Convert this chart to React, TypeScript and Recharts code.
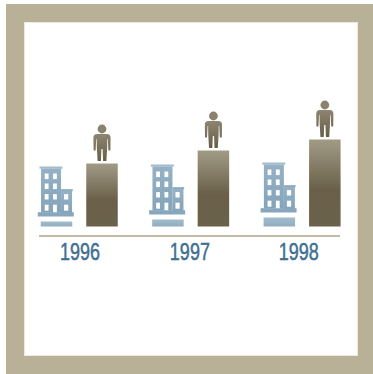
import React from "react"
import { Bar, BarChart, XAxis, YAxis } from "recharts"

const years = ["1996", "1997", "1998"]
const buildings = [5, 7, 9]
const people = [63, 76, 87]
const labelNudge = [0.5, -1, -3.5]

const rows = years.map((year, i) => ({ year, buildings: buildings[i], people: people[i] }))

const FRAME = "#b8b097"
const BLUE_TEXT = "#3f6f8f"

// tower with a lower wing, drawn upward from (x0, y0)
function BuildingIcon({ x0, y0 }: { x0: number; y0: number }) {
  const windows = [
    [7, -43, 3.8, 5.6], [15.3, -43, 3.8, 5.6],
    [7, -33, 3.8, 5.6], [15.3, -33, 3.8, 5.6],
    [7, -22.4, 3.8, 5.4], [15.3, -22.4, 3.8, 5.4], [26.3, -22.4, 4.2, 5.4],
    [7, -11.8, 3.8, 6], [15.3, -11.8, 3.8, 7.5], [26.3, -11.8, 4.2, 6],
  ]
  return (
    <g transform={`translate(${x0},${y0})`}>
      <rect x={3.3} y={-48} width={20} height={44} fill="url(#buildingFill)" />
      <rect x={23.3} y={-25.5} width={11} height={22} fill="url(#buildingFill)" />
      <rect x={1.7} y={-50} width={23} height={2.2} fill="#a4bccc" />
      <rect x={23.3} y={-27.4} width={11.7} height={2.2} fill="#8fadc1" />
      <rect x={0} y={-4.3} width={36} height={4.3} fill="#88a7bc" />
      {windows.map(([wx, wy, ww, wh], i) => (
        <rect key={i} x={wx} y={wy} width={ww} height={wh} fill="#ffffff" />
      ))}
    </g>
  )
}

// standing figure, feet at (cx, y0)
function PersonIcon({ cx, y0 }: { cx: number; y0: number }) {
  const body =
    "M-5,-27 L5,-27 Q8.6,-27 8.6,-23 L8.4,-10.5 L6.4,-10.5 L5.8,-22 L5.3,-22 L5.2,-14 L4.4,0 L1.1,0 L0.6,-12 L-0.6,-12 L-1.1,0 L-4.4,0 L-5.2,-14 L-5.3,-22 L-5.8,-22 L-6.4,-10.5 L-8.4,-10.5 L-8.6,-23 Q-8.6,-27 -5,-27 Z"
  return (
    <g transform={`translate(${cx},${y0})`}>
      <circle cx={0} cy={-32} r={4.4} fill="#8a826c" />
      <path d={body} fill="url(#personFill)" />
    </g>
  )
}

function BuildingBar(props: any) {
  const { x, y, width, height } = props
  return (
    <g>
      <BuildingIcon x0={x - 3} y0={y - 5} />
      <rect x={x} y={y} width={width} height={height} fill="url(#plinthFill)" />
    </g>
  )
}

function PersonBar(props: any) {
  const { x, y, width, height } = props
  return (
    <g>
      <PersonIcon cx={x + width / 2} y0={y - 2.5} />
      <rect x={x} y={y} width={width} height={height} fill="url(#columnFill)" />
    </g>
  )
}

// the narrow face isn't available, so the regular one is squeezed horizontally
function YearTick(props: any) {
  const { x, payload, index } = props
  return (
    <text
      transform={`translate(${x + labelNudge[index]},260) scale(0.75,1)`}
      textAnchor="middle"
      fontFamily="'Liberation Sans', sans-serif"
      fontSize={24}
      stroke={BLUE_TEXT}
      strokeWidth={0.5}
      fill={BLUE_TEXT}
    >
      {payload.value}
    </text>
  )
}

export default function App() {
  return (
    <div style={{ position: "absolute", left: 0, top: 0, width: 373, height: 374, background: "#ffffff", overflow: "hidden" }}>
      <div
        style={{
          position: "absolute",
          left: 6,
          top: 4,
          width: 334,
          height: 334,
          border: `18px solid ${FRAME}`,
          boxShadow: "inset 0 0 0 1px #efe9dc",
        }}
      />
      <BarChart
        width={373}
        height={374}
        data={rows}
        margin={{ top: 22, right: 33, bottom: 108, left: 39 }}
        barSize={31.5}
        barGap={14}
        style={{ position: "absolute", left: 0, top: 0 }}
      >
        <defs>
          <linearGradient id="columnFill" x1="0" y1="0" x2="0" y2="1">
            <stop offset="0%" stopColor="#a19b86" />
            <stop offset="58%" stopColor="#6a6049" />
            <stop offset="100%" stopColor="#6b624c" />
          </linearGradient>
          <linearGradient id="personFill" x1="0" y1="0" x2="0" y2="1">
            <stop offset="0%" stopColor="#8d8570" />
            <stop offset="100%" stopColor="#675e48" />
          </linearGradient>
          <linearGradient id="buildingFill" x1="0" y1="0" x2="0" y2="1">
            <stop offset="0%" stopColor="#95b1c5" />
            <stop offset="100%" stopColor="#84a4ba" />
          </linearGradient>
          <linearGradient id="plinthFill" x1="0" y1="0" x2="0" y2="1">
            <stop offset="0%" stopColor="#a3bccb" />
            <stop offset="100%" stopColor="#8fadc1" />
          </linearGradient>
        </defs>
        <XAxis
          dataKey="year"
          height={30}
          padding={{ left: -15.25, right: -18 }}
          tickLine={false}
          axisLine={{ stroke: "#c3baa8", strokeWidth: 2 }}
          tick={<YearTick />}
          interval={0}
        />
        <YAxis hide domain={[-9.5, 204.5]} />
        <Bar dataKey="buildings" shape={<BuildingBar />} isAnimationActive={false} />
        <Bar dataKey="people" shape={<PersonBar />} isAnimationActive={false} />
      </BarChart>
    </div>
  )
}
